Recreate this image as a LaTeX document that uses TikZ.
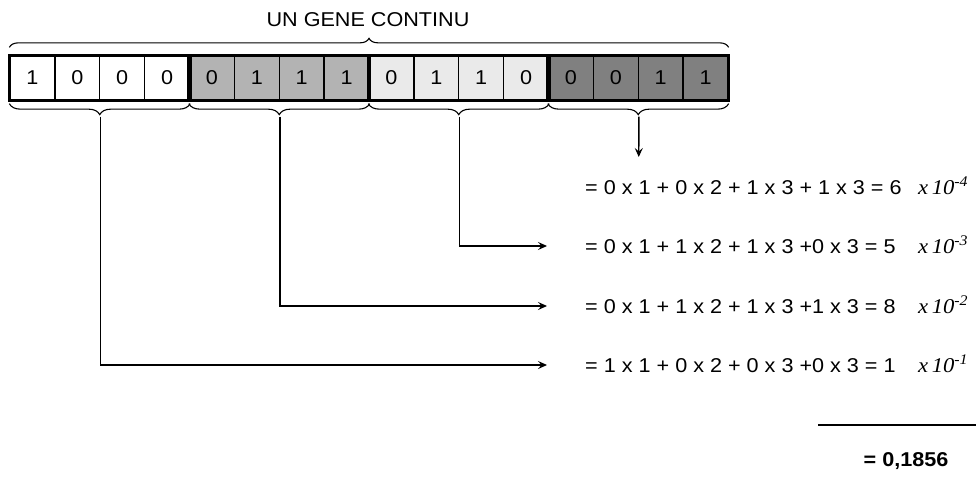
\documentclass[tikz,border=0pt]{standalone}
\usepackage{fontspec}
\setmainfont[FakeStretch=1.08]{Liberation Sans}
\newfontfamily\serifwide[FakeStretch=1.08]{Liberation Serif}
\usetikzlibrary{arrows.meta,decorations.pathreplacing,calc}

\definecolor{grpA}{HTML}{FFFFFF}
\definecolor{grpB}{HTML}{B3B3B3}
\definecolor{grpC}{HTML}{EAEAEA}
\definecolor{grpD}{HTML}{808080}

\tikzset{
  bit/.style={draw=black, line width=1.3pt, minimum width=44.875pt, minimum height=44pt,
              inner sep=0pt, font=\fontsize{20}{24}\selectfont},
  grpframe/.style={draw=black, line width=3pt},
  bracetop/.style={decorate, decoration={brace, amplitude=9pt}, line width=1.1pt},
  bracebot/.style={decorate, decoration={brace, amplitude=11pt}, line width=1.1pt},
  link/.style={line width=1.4pt, -{Stealth[length=9pt,width=8pt,inset=3.5pt]}},
  eqn/.style={anchor=base west, inner sep=0pt, font=\fontsize{20}{24}\selectfont},
  mult/.style={anchor=base west, inner sep=0pt, font=\serifwide\itshape\fontsize{21}{24}\selectfont},
  total/.style={inner sep=0pt, font=\bfseries\fontsize{20}{24}\selectfont}
}

\begin{document}
\begin{tikzpicture}[x=1pt, y=1pt]
  \useasboundingbox (0,0) rectangle (976,-476);

  % the sixteen bits of the gene, four groups of four
  \foreach \b [count=\i from 0] in {1,0,0,0, 0,1,1,1, 0,1,1,0, 0,0,1,1} {
    \pgfmathtruncatemacro{\g}{int(\i/4)}
    \ifcase\g \def\fc{grpA}\or \def\fc{grpB}\or \def\fc{grpC}\or \def\fc{grpD}\fi
    \node[bit, fill=\fc] (c\i) at ({10+44.875*(\i+0.5)}, -78) {\b};
  }
  \foreach \s/\e in {0/3, 4/7, 8/11, 12/15}
    \draw[grpframe] (c\s.north west) rectangle (c\e.south east);

  % title and the brace over the whole gene
  \node[font=\fontsize{20}{24}\selectfont] (title) at (368,-20) {UN GENE CONTINU};
  \draw[bracetop] ([yshift=8pt]c0.north west) -- ([yshift=8pt]c15.north east);

  % one brace under each group
  \draw[bracebot] ([yshift=-3pt]c3.south east) -- ([yshift=-3pt]c0.south west);
  \draw[bracebot] ([yshift=-3pt]c7.south east) -- ([yshift=-3pt]c4.south west);
  \draw[bracebot] ([yshift=-3pt]c11.south east) -- ([yshift=-3pt]c8.south west);
  \draw[bracebot] ([yshift=-3pt]c15.south east) -- ([yshift=-3pt]c12.south west);

  \coordinate (tip1) at ([yshift=-16pt]c1.south east);
  \coordinate (tip2) at ([yshift=-16pt]c5.south east);
  \coordinate (tip3) at ([yshift=-16pt]c9.south east);
  \coordinate (tip4) at ([yshift=-16pt]c13.south east);

  % weighted sums of the groups
  \node[eqn] (e4) at (585,-194) {= 0 x 1 + 0 x 2 + 1 x 3 + 1 x 3 = 6};
  \node[eqn] (e3) at (585,-253) {= 0 x 1 + 1 x 2 + 1 x 3 +0 x 3 = 5};
  \node[eqn] (e2) at (585,-313) {= 0 x 1 + 1 x 2 + 1 x 3 +1 x 3 = 8};
  \node[eqn] (e1) at (585,-372) {= 1 x 1 + 0 x 2 + 0 x 3 +0 x 3 = 1};

  \node[mult] (m4) at (918,-194) {x\,10\textsuperscript{-4}};
  \node[mult] (m3) at (918,-253) {x\,10\textsuperscript{-3}};
  \node[mult] (m2) at (918,-313) {x\,10\textsuperscript{-2}};
  \node[mult] (m1) at (918,-372) {x\,10\textsuperscript{-1}};

  % connectors from the braces to the sums
  \coordinate (a4) at (638.75,-157);
  \coordinate (a3) at (547,-246);
  \coordinate (a2) at (547,-306);
  \coordinate (a1) at (547,-365);
  \draw[link] (tip4) -- (a4);
  \draw[link] (tip3) |- (a3);
  \draw[link] (tip2) |- (a2);
  \draw[link] (tip1) |- (a1);

  % sum rule and the result
  \coordinate (rl) at (818,-425);
  \coordinate (rr) at (976,-425);
  \draw[line width=2.5pt] (rl) -- (rr);
  \node[total] (res) at (906,-461) {= 0,1856};
\end{tikzpicture}
\end{document}
